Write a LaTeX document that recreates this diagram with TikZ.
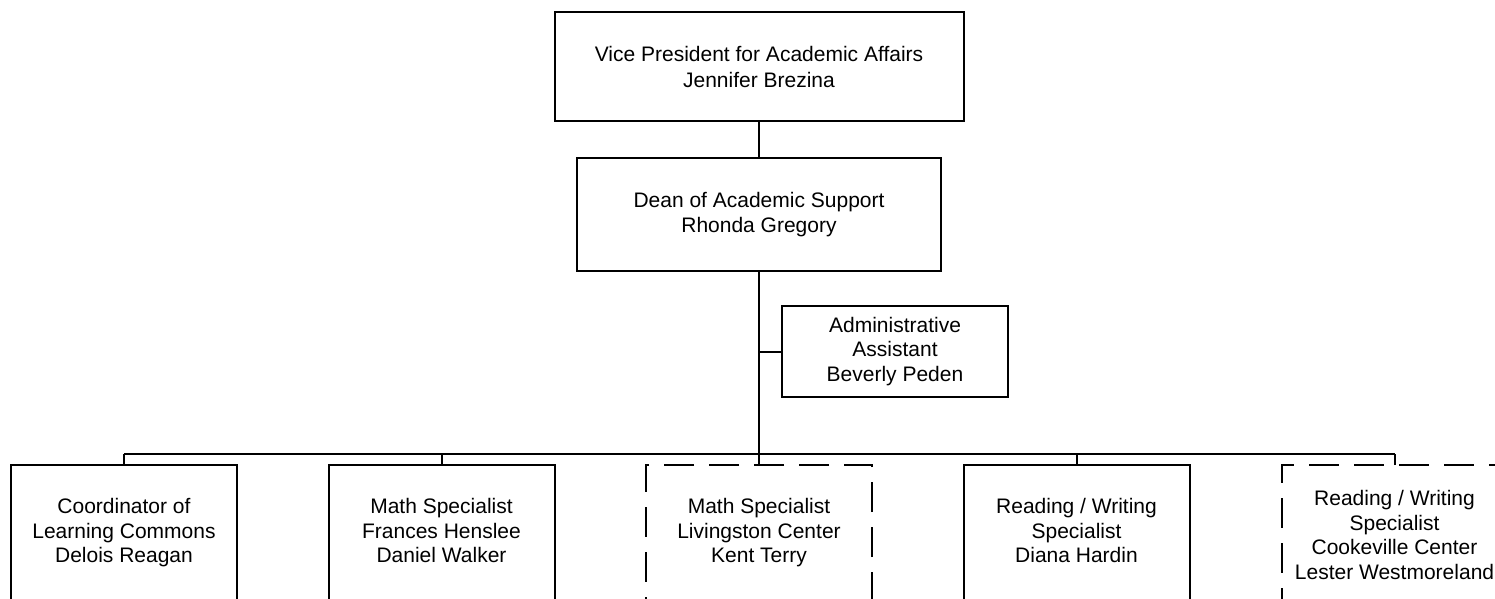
\documentclass[tikz,border=0pt]{standalone}
\usepackage{fontspec}
\setmainfont{Liberation Sans}
\begin{document}
\begin{tikzpicture}[x=1pt,y=-1pt,line width=2pt,
  box/.style={draw,rectangle,inner sep=0pt,outer sep=0pt,align=center,
    font=\fontsize{21}{24.5}\selectfont,minimum width=226pt},
  dbox/.style={box,dash pattern=on 30pt off 15pt},
  lowbox/.style={minimum height=136pt,text depth=5pt}]
\useasboundingbox (0,0) rectangle (1495,598);
\clip (0,0) rectangle (1495,598);
\node[box,minimum width=409pt,minimum height=109pt,font=\fontsize{21}{26}\selectfont] (vp) at (759,66.5)
  {Vice President for Academic Affairs\\Jennifer Brezina};
\node[box,minimum width=364pt,minimum height=113pt] (dean) at (759,214.5)
  {Dean of Academic Support\\Rhonda Gregory};
\node[box,minimum height=91pt] (admin) at (895,351.5)
  {Administrative\\Assistant\\Beverly Peden};
\node[box,lowbox] (c1) at (124,533) {Coordinator of\\Learning Commons\\Delois Reagan};
\node[box,lowbox] (c2) at (441.5,533) {Math Specialist\\Frances Henslee\\Daniel Walker};
\node[dbox,lowbox] (c3) at (759,533) {Math Specialist\\Livingston Center\\Kent Terry};
\node[box,lowbox] (c4) at (1076.5,533) {Reading / Writing\\Specialist\\Diana Hardin};
\node[dbox,lowbox,minimum height=145pt] (c5) at (1394.5,537.5) {Reading / Writing\\Specialist\\Cookeville Center\\Lester Westmoreland};
\coordinate (bus) at (759,454.3);
\coordinate (bl) at (124,454.3);
\coordinate (br) at (1394.5,454.3);
\draw (vp.south) -- (dean.north);
\draw (dean.south) -- (bus);
\draw (admin.west) -- (admin.west -| dean.south);
\draw (bl) -- (br);
\foreach \n in {c1,c2,c3,c4,c5} {\draw (\n.north) -- (\n.north |- bus);}
\end{tikzpicture}
\end{document}
